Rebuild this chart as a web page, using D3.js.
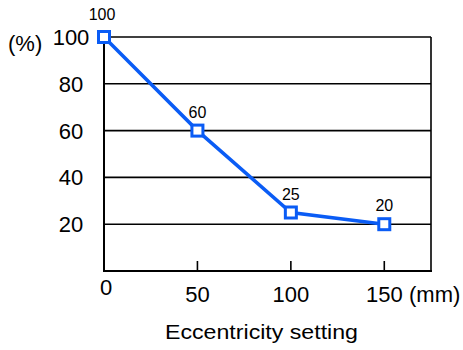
<!DOCTYPE html>
<html><head><meta charset="utf-8">
<script src="https://cdn.jsdelivr.net/npm/d3@7"></script>
<style>body{margin:0;background:#fff}text{font-family:"Liberation Sans",Arial,sans-serif;fill:#000}</style>
</head><body><svg id="c" width="463" height="350"></svg>
<script>
const settings = [0, 50, 100, 150];
const values = [100, 60, 25, 20];
const yTicks = [20, 40, 60, 80, 100];
const xTicks = [0, 50, 100, 150];

const svg = d3.select("#c");
const x = d3.scaleLinear().domain([0, 175]).range([104, 431]);
const y = d3.scaleLinear().domain([0, 100]).range([271, 37]);
const blue = "#0a5cf5";

svg.selectAll(".grid").data(yTicks).join("line")
  .attr("x1", x(0)).attr("x2", x(175))
  .attr("y1", d => y(d)).attr("y2", d => y(d))
  .attr("stroke", "#000").attr("stroke-width", 1.6);

svg.append("line").attr("x1", x(0)).attr("x2", x(0)).attr("y1", y(100)).attr("y2", y(0)).attr("stroke", "#000").attr("stroke-width", 2);
svg.append("line").attr("x1", x(0) - 1).attr("x2", x(175) + 1).attr("y1", y(0)).attr("y2", y(0)).attr("stroke", "#000").attr("stroke-width", 2);
svg.append("line").attr("x1", x(175)).attr("x2", x(175)).attr("y1", y(100)).attr("y2", y(0)).attr("stroke", "#000").attr("stroke-width", 1.6);

svg.selectAll(".xt").data(xTicks.filter(d => d > 0)).join("line")
  .attr("x1", d => x(d)).attr("x2", d => x(d))
  .attr("y1", y(0)).attr("y2", y(0) - 10)
  .attr("stroke", "#000").attr("stroke-width", 1.6);

svg.selectAll(".yl").data(yTicks).join("text")
  .attr("x", 71).attr("y", d => y(d) + 8)
  .attr("text-anchor", "middle").attr("font-size", 22)
  .text(d => d);

svg.selectAll(".xl").data(xTicks).join("text")
  .attr("x", d => x(d) + (d === 0 ? 2 : 0)).attr("y", d => d === 0 ? 295 : 302)
  .attr("text-anchor", "middle").attr("font-size", 22)
  .text(d => d);

svg.append("text").attr("x", 8).attr("y", 51).attr("font-size", 22).text("(%)");
svg.append("text").attr("x", 409).attr("y", 302).attr("font-size", 22).text("(mm)");
svg.append("text").attr("x", 261.5).attr("y", 339).attr("text-anchor", "middle")
  .attr("font-size", 20).attr("textLength", 193).attr("lengthAdjust", "spacingAndGlyphs")
  .text("Eccentricity setting");

const line = d3.line().x((d, i) => x(settings[i])).y(d => y(d));
svg.append("path").datum(values).attr("d", line)
  .attr("fill", "none").attr("stroke", blue).attr("stroke-width", 3.5);

svg.selectAll(".m").data(values).join("rect")
  .attr("x", (d, i) => x(settings[i]) - 5.5).attr("y", d => y(d) - 5.5)
  .attr("width", 11).attr("height", 11)
  .attr("fill", "#fff").attr("stroke", blue).attr("stroke-width", 3);

svg.selectAll(".v").data(values).join("text")
  .attr("x", (d, i) => x(settings[i]) + (i === 0 ? -2 : 0)).attr("y", (d, i) => y(d) - (i === 0 ? 17 : 13))
  .attr("text-anchor", "middle").attr("font-size", 16)
  .text(d => d);
</script></body></html>
